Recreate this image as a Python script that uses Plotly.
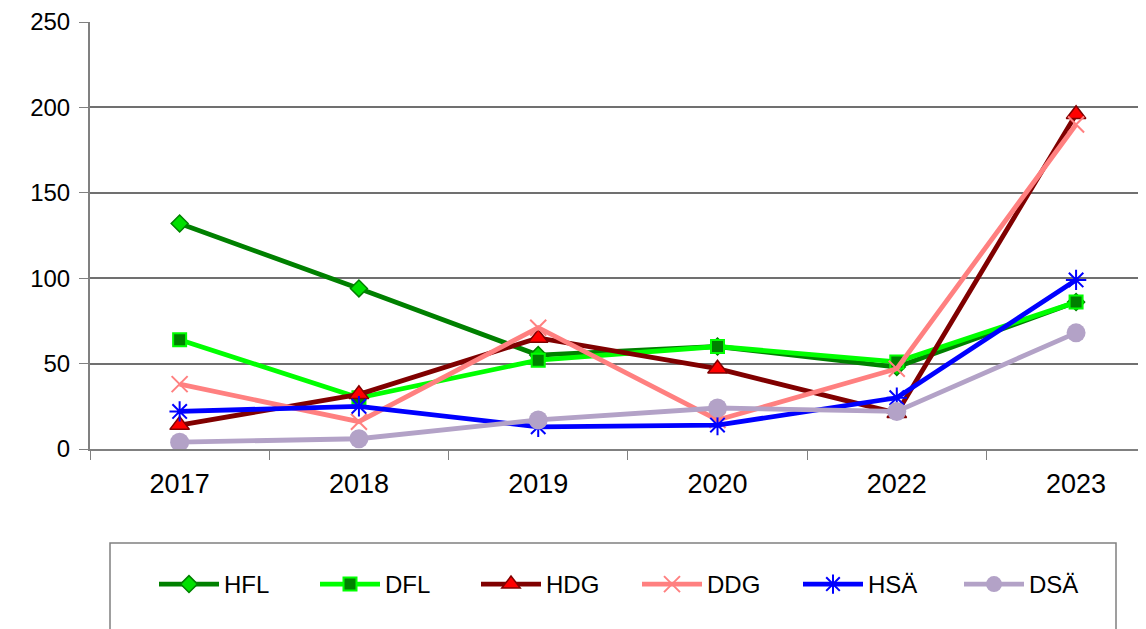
import plotly.graph_objects as go

# Données
years = ["2017", "2018", "2019", "2020", "2022", "2023"]
hfl = [132, 94, 55, 60, 48, 86]
dfl = [64, 30, 52, 60, 51, 86]
hdg = [14, 32, 65, 47, 21, 196]
ddg = [38, 16, 71, 17, 47, 190]
hsa = [22, 25, 13, 14, 30, 99]
dsa = [4, 6, 17, 24, 22, 68]
y_ticks = [0, 50, 100, 150, 200, 250]

FONT = "Liberation Sans, Arial, sans-serif"

series = [
    dict(name="HFL", y=hfl, color="#008000",
         marker=dict(symbol="diamond", size=13, color="#00e000", line=dict(color="#008000", width=1.5))),
    dict(name="DFL", y=dfl, color="#00ff00",
         marker=dict(symbol="square", size=13, color="#008000", line=dict(color="#00ff00", width=2))),
    dict(name="HDG", y=hdg, color="#800000",
         marker=dict(symbol="triangle-up", size=17, color="#ff0000", line=dict(color="#800000", width=1.5))),
    dict(name="DDG", y=ddg, color="#ff8080",
         marker=dict(symbol="x-thin-open", size=16, color="#ff8080", line=dict(color="#ff8080", width=2))),
    dict(name="HSÄ", y=hsa, color="#0000ff",
         marker=dict(symbol="asterisk-open", size=17, color="#0000ff", line=dict(color="#0000ff", width=2))),
    dict(name="DSÄ", y=dsa, color="#b3a2c7",
         marker=dict(symbol="circle", size=19, color="#b3a2c7", line=dict(width=0))),
]

fig = go.Figure()
for s in series:
    fig.add_trace(go.Scatter(
        x=years,
        y=s["y"],
        name=s["name"],
        mode="lines+markers",
        line=dict(color=s["color"], width=4.8),
        marker=s["marker"],
    ))

# la page ajoute une marge de 8 px (body) : on compense
OFF = 8
W, H = 1146, 629
L, T = 90 - OFF, 22 - OFF
plot_bottom = 449 - OFF
R = OFF
B = H - plot_bottom
pw = W - L - R
ph = plot_bottom - T


def py(sy):
    # position verticale écran -> coordonnée papier
    return (plot_bottom - (sy - OFF)) / ph


def px(sx):
    return (sx - OFF - L) / pw


fig.update_layout(
    width=W,
    height=H,
    margin=dict(l=L, r=R, t=T, b=B, autoexpand=False),
    paper_bgcolor="white",
    plot_bgcolor="white",
    font=dict(family=FONT, size=27, color="black"),
    showlegend=True,
    legend=dict(
        orientation="h",
        x=px(154),
        xanchor="left",
        y=py(562),
        yanchor="top",
        entrywidth=86,
        itemwidth=60,
        font=dict(family=FONT, size=24),
        bgcolor="rgba(0,0,0,0)",
    ),
    xaxis=dict(
        type="category",
        range=[-0.5, 5.39],
        tickson="boundaries",
        ticks="outside",
        ticklen=9,
        tickcolor="#808080",
        showgrid=False,
        showline=True,
        linecolor="#808080",
        linewidth=2,
        zeroline=False,
        ticklabelstandoff=10,
    ),
    yaxis=dict(
        range=[0, 250],
        tickmode="array",
        tickvals=y_ticks,
        ticklabeloverflow="allow",
        tickfont=dict(size=24),
        ticks="outside",
        ticklen=9,
        tickcolor="#808080",
        showgrid=True,
        gridcolor="#707070",
        gridwidth=1.5,
        showline=True,
        linecolor="#808080",
        linewidth=2,
        zeroline=False,
        ticklabelstandoff=4,
    ),
    shapes=[
        dict(
            type="rect", xref="paper", yref="paper",
            x0=px(110), x1=px(1116),
            y0=py(543), y1=py(680),
            line=dict(color="#808080", width=1.5),
            fillcolor="rgba(0,0,0,0)",
        )
    ],
)

fig.write_html("out.html")
